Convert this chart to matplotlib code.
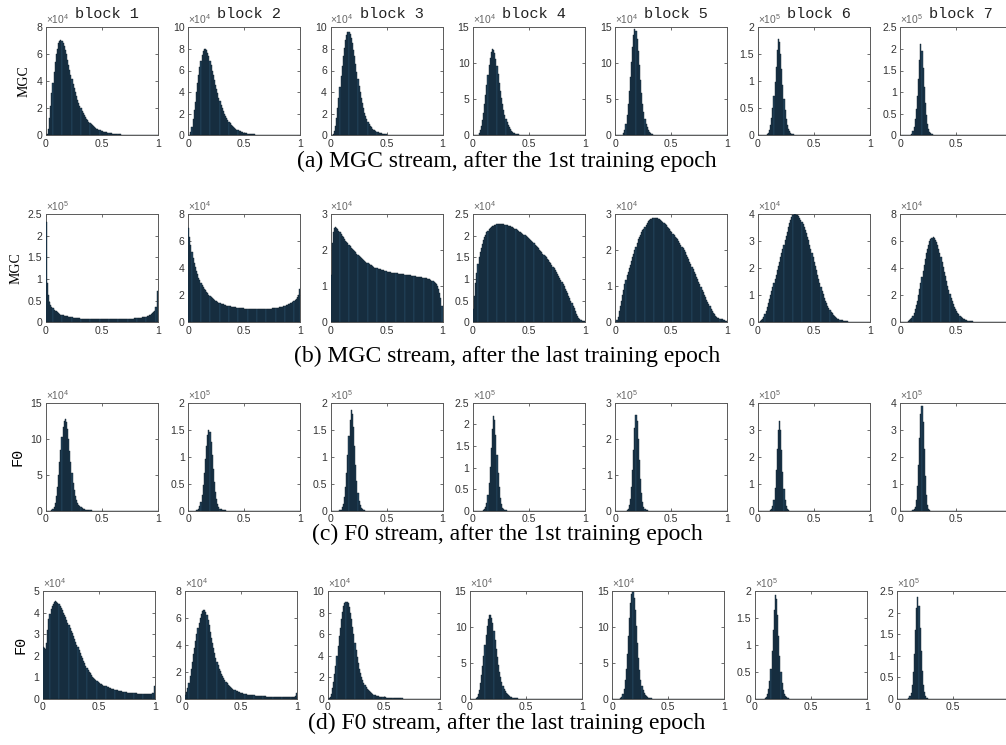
import matplotlib
matplotlib.use("Agg")
import matplotlib.pyplot as plt
import numpy as np

plt.rcParams["font.family"] = ["Liberation Sans", "DejaVu Sans"]

# histogram heights, one value per 0.01-wide bin starting at 0; bins past the
# end of a list are empty. Units are 10^exponent (the "x10^n" above each panel).

# (a) MGC stream, after the 1st training epoch
mgc_first_b1 = [
    0, 0.1, 0.5, 1.3, 2.2, 3.1, 3.9, 4.7, 5.4, 6.0,
    6.4, 6.8, 7.0, 7.05, 7.0, 6.85, 6.6, 6.3, 6.0, 5.6,
    5.2, 4.85, 4.5, 4.15, 3.8, 3.5, 3.2, 2.9, 2.65, 2.4,
    2.2, 2.0, 1.82, 1.65, 1.5, 1.36, 1.23, 1.11, 1.0, 0.9,
    0.82, 0.74, 0.67, 0.61, 0.55, 0.5, 0.45, 0.41, 0.37, 0.34,
    0.31, 0.28, 0.25, 0.23, 0.21, 0.19, 0.17, 0.15, 0.14, 0.12,
    0.11, 0.1, 0.09, 0.08, 0.07, 0.065, 0.06, 0.05, 0.045, 0.04,
    0.035, 0.03, 0.028, 0.025, 0.022, 0.02, 0.018, 0.016, 0.014, 0.012]
mgc_first_b2 = [
    0, 0.05, 0.3, 0.8, 1.5, 2.3, 3.1, 4.0, 4.8, 5.6,
    6.3, 6.9, 7.4, 7.8, 8.0, 8.0, 7.9, 7.6, 7.3, 6.9,
    6.5, 6.0, 5.6, 5.1, 4.7, 4.3, 3.9, 3.5, 3.15, 2.8,
    2.5, 2.25, 2.0, 1.78, 1.58, 1.4, 1.24, 1.1, 0.97, 0.86,
    0.76, 0.67, 0.59, 0.52, 0.46, 0.41, 0.36, 0.32, 0.28, 0.25,
    0.22, 0.2, 0.18, 0.16, 0.14, 0.12, 0.11, 0.1, 0.09, 0.08,
    0.07, 0.06, 0.055, 0.05, 0.045, 0.04, 0.035, 0.03, 0.027, 0.024, 0.02]
mgc_first_b3 = [
    0, 0, 0.1, 0.4, 0.9, 1.6, 2.5, 3.5, 4.5, 5.5,
    6.4, 7.3, 8.1, 8.8, 9.3, 9.6, 9.6, 9.4, 9.0, 8.5,
    7.9, 7.3, 6.6, 5.9, 5.2, 4.6, 4.0, 3.45, 2.95, 2.5,
    2.1, 1.78, 1.5, 1.25, 1.05, 0.88, 0.73, 0.62, 0.53, 0.46,
    0.39, 0.33, 0.28, 0.24, 0.2, 0.17, 0.14, 0.12, 0.1, 0.085,
    0.07, 0.06, 0.05, 0.045, 0.04, 0.035, 0.03, 0.025, 0.02, 0.018]
mgc_first_b4 = [
    0, 0, 0, 0.02, 0.1, 0.3, 0.7, 1.3, 2.1, 3.1,
    4.3, 5.6, 7.0, 8.4, 9.7, 10.8, 11.6, 12.0, 11.9, 11.4,
    10.6, 9.6, 8.5, 7.3, 6.2, 5.2, 4.3, 3.5, 2.8, 2.25,
    1.8, 1.4, 1.1, 0.85, 0.65, 0.5, 0.38, 0.29, 0.22, 0.17,
    0.13, 0.1, 0.08, 0.06, 0.05, 0.04, 0.03, 0.025, 0.02, 0.015, 0.01]
mgc_first_b5 = [
    0, 0, 0, 0, 0, 0.02, 0.1, 0.3, 0.8, 1.6,
    2.8, 4.3, 6.1, 8.1, 10.2, 12.2, 13.9, 14.7, 14.5, 13.4,
    11.7, 9.7, 7.7, 5.9, 4.4, 3.2, 2.3, 1.6, 1.1, 0.75,
    0.5, 0.33, 0.22, 0.15, 0.1, 0.07, 0.05, 0.03, 0.02, 0.01]
mgc_first_b6 = [
    0, 0, 0, 0, 0, 0, 0, 0.005, 0.02, 0.05,
    0.1, 0.19, 0.32, 0.5, 0.72, 0.98, 1.27, 1.58, 1.78, 1.72,
    1.5, 1.22, 0.93, 0.67, 0.46, 0.3, 0.19, 0.12, 0.075, 0.045,
    0.028, 0.017, 0.01, 0.006]
mgc_first_b7 = [
    0, 0, 0, 0, 0, 0, 0, 0, 0.005, 0.015,
    0.04, 0.1, 0.2, 0.37, 0.6, 0.9, 1.3, 1.75, 2.12, 1.95,
    1.55, 1.12, 0.75, 0.46, 0.27, 0.15, 0.08, 0.045, 0.025, 0.013, 0.007]

# (b) MGC stream, after the last training epoch
mgc_last_b1 = [
    2.33, 0.9, 0.63, 0.48, 0.4, 0.36, 0.32, 0.29, 0.27, 0.25,
    0.23, 0.21, 0.195, 0.18, 0.17, 0.16, 0.15, 0.145, 0.14, 0.135,
    0.13, 0.125, 0.12, 0.115, 0.11, 0.105, 0.1, 0.097, 0.094, 0.091,
    0.088, 0.086, 0.084, 0.082, 0.08, 0.078, 0.077, 0.076, 0.075, 0.074,
    0.071, 0.07, 0.07, 0.069, 0.069, 0.068, 0.068, 0.067, 0.067, 0.066,
    0.066, 0.066, 0.065, 0.065, 0.065, 0.065, 0.065, 0.065, 0.066, 0.066,
    0.066, 0.067, 0.067, 0.068, 0.068, 0.069, 0.07, 0.07, 0.071, 0.072,
    0.073, 0.074, 0.075, 0.076, 0.078, 0.08, 0.082, 0.084, 0.086, 0.088,
    0.09, 0.093, 0.096, 0.1, 0.104, 0.108, 0.113, 0.118, 0.124, 0.13,
    0.138, 0.147, 0.158, 0.17, 0.185, 0.205, 0.23, 0.27, 0.36, 0.73]
mgc_last_b2 = [
    7.0, 6.3, 5.7, 5.2, 4.75, 4.4, 4.1, 3.8, 3.55, 3.3,
    3.1, 2.92, 2.76, 2.62, 2.48, 2.36, 2.25, 2.14, 2.04, 1.95,
    1.87, 1.79, 1.72, 1.66, 1.6, 1.55, 1.5, 1.46, 1.42, 1.38,
    1.35, 1.32, 1.29, 1.26, 1.24, 1.22, 1.2, 1.18, 1.16, 1.14,
    1.12, 1.11, 1.1, 1.09, 1.08, 1.07, 1.06, 1.05, 1.04, 1.03,
    1.02, 1.01, 1.0, 1.0, 0.99, 0.99, 0.98, 0.98, 0.98, 0.97,
    0.97, 0.97, 0.97, 0.97, 0.97, 0.97, 0.98, 0.98, 0.98, 0.99,
    0.99, 1.0, 1.0, 1.01, 1.02, 1.03, 1.04, 1.05, 1.06, 1.08,
    1.09, 1.11, 1.13, 1.15, 1.17, 1.19, 1.22, 1.25, 1.28, 1.32,
    1.36, 1.4, 1.45, 1.5, 1.56, 1.63, 1.72, 1.85, 2.05, 2.5]
mgc_last_b3 = [
    1.3, 2.2, 2.5, 2.62, 2.65, 2.62, 2.58, 2.54, 2.5, 2.45,
    2.4, 2.36, 2.32, 2.27, 2.23, 2.19, 2.15, 2.11, 2.07, 2.03,
    2.0, 1.97, 1.94, 1.91, 1.88, 1.85, 1.82, 1.79, 1.76, 1.73,
    1.7, 1.68, 1.66, 1.64, 1.62, 1.6, 1.58, 1.56, 1.54, 1.52,
    1.51, 1.5, 1.49, 1.48, 1.47, 1.46, 1.45, 1.44, 1.43, 1.42,
    1.41, 1.4, 1.39, 1.39, 1.38, 1.38, 1.37, 1.37, 1.36, 1.36,
    1.35, 1.35, 1.34, 1.34, 1.33, 1.33, 1.32, 1.32, 1.31, 1.31,
    1.3, 1.3, 1.29, 1.29, 1.28, 1.28, 1.27, 1.27, 1.26, 1.26,
    1.25, 1.25, 1.24, 1.23, 1.23, 1.22, 1.21, 1.2, 1.19, 1.18,
    1.16, 1.14, 1.12, 1.09, 1.05, 1.0, 0.92, 0.82, 0.68, 0.45]
mgc_last_b4 = [
    0.3, 0.62, 0.9, 1.15, 1.35, 1.5, 1.62, 1.73, 1.82, 1.9,
    1.97, 2.03, 2.08, 2.12, 2.15, 2.18, 2.2, 2.22, 2.24, 2.25,
    2.26, 2.27, 2.27, 2.28, 2.28, 2.28, 2.27, 2.27, 2.26, 2.26,
    2.25, 2.24, 2.23, 2.22, 2.21, 2.2, 2.18, 2.17, 2.15, 2.14,
    2.12, 2.1, 2.09, 2.07, 2.05, 2.03, 2.01, 1.99, 1.97, 1.95,
    1.92, 1.9, 1.88, 1.85, 1.83, 1.8, 1.77, 1.74, 1.71, 1.68,
    1.65, 1.62, 1.59, 1.56, 1.53, 1.5, 1.47, 1.44, 1.4, 1.37,
    1.33, 1.29, 1.25, 1.21, 1.17, 1.12, 1.08, 1.03, 0.98, 0.94,
    0.89, 0.84, 0.78, 0.73, 0.67, 0.62, 0.56, 0.5, 0.44, 0.38,
    0.32, 0.26, 0.2, 0.15, 0.1, 0.07, 0.05, 0.035, 0.025, 0.02]
mgc_last_b5 = [
    0.0, 0.05, 0.15, 0.3, 0.45, 0.6, 0.75, 0.9, 1.05, 1.18,
    1.3, 1.4, 1.5, 1.6, 1.7, 1.8, 1.9, 2.0, 2.1, 2.2,
    2.3, 2.37, 2.43, 2.5, 2.55, 2.6, 2.65, 2.7, 2.75, 2.8,
    2.85, 2.87, 2.88, 2.89, 2.9, 2.9, 2.9, 2.89, 2.87, 2.86,
    2.84, 2.82, 2.79, 2.76, 2.73, 2.7, 2.66, 2.62, 2.58, 2.54,
    2.5, 2.46, 2.42, 2.38, 2.34, 2.3, 2.25, 2.2, 2.15, 2.1,
    2.05, 2.0, 1.94, 1.88, 1.82, 1.75, 1.68, 1.61, 1.54, 1.47,
    1.4, 1.33, 1.26, 1.19, 1.12, 1.05, 0.98, 0.91, 0.84, 0.77,
    0.7, 0.63, 0.56, 0.5, 0.44, 0.38, 0.32, 0.27, 0.22, 0.18,
    0.15, 0.13, 0.11, 0.1, 0.09, 0.08, 0.07, 0.05, 0.04, 0.03]
mgc_last_b6 = [
    0, 0.01, 0.03, 0.07, 0.13, 0.2, 0.3, 0.42, 0.56, 0.72,
    0.85, 1.0, 1.15, 1.3, 1.45, 1.6, 1.76, 1.92, 2.08, 2.24,
    2.4, 2.56, 2.72, 2.88, 3.04, 3.2, 3.36, 3.52, 3.66, 3.8,
    3.9, 3.96, 4.0, 4.0, 3.99, 3.96, 3.92, 3.86, 3.8, 3.72,
    3.63, 3.53, 3.42, 3.3, 3.17, 3.03, 2.88, 2.72, 2.56, 2.4,
    2.24, 2.08, 1.92, 1.76, 1.6, 1.45, 1.3, 1.16, 1.03, 0.91,
    0.8, 0.7, 0.6, 0.52, 0.45, 0.39, 0.33, 0.28, 0.24, 0.2,
    0.17, 0.14, 0.12, 0.1, 0.08, 0.07, 0.06, 0.05, 0.04, 0.035,
    0.03, 0.025, 0.02, 0.017, 0.014, 0.012, 0.01, 0.008, 0.006, 0.005]
mgc_last_b7 = [
    0, 0, 0, 0, 0, 0.02, 0.04, 0.08, 0.14, 0.22,
    0.34, 0.5, 0.7, 0.95, 1.25, 1.6, 2.0, 2.45, 2.9, 3.35,
    3.8, 4.25, 4.7, 5.1, 5.45, 5.75, 6.0, 6.18, 6.28, 6.3,
    6.25, 6.12, 5.95, 5.72, 5.45, 5.15, 4.82, 4.48, 4.12, 3.76,
    3.4, 3.05, 2.72, 2.4, 2.1, 1.83, 1.58, 1.36, 1.16, 0.98,
    0.83, 0.7, 0.59, 0.49, 0.41, 0.34, 0.28, 0.23, 0.19, 0.16,
    0.13, 0.11, 0.09, 0.075, 0.06, 0.05, 0.04, 0.035, 0.03, 0.025,
    0.02, 0.018, 0.015, 0.012, 0.01, 0.008, 0.006, 0.005, 0.004, 0.003]

# (c) F0 stream, after the 1st training epoch
f0_first_b1 = [
    0, 0, 0, 0, 0, 0.05, 0.2, 0.5, 1.1, 2.0,
    3.3, 4.9, 6.7, 8.5, 10.2, 11.6, 12.5, 12.7, 12.3, 11.3,
    9.9, 8.3, 6.7, 5.2, 3.9, 2.9, 2.1, 1.5, 1.1, 0.8,
    0.6, 0.45, 0.35, 0.27, 0.2, 0.15, 0.11, 0.08, 0.06, 0.045,
    0.03, 0.02, 0.015, 0.01, 0.005]
f0_first_b2 = [
    0, 0, 0, 0, 0, 0, 0, 0.005, 0.015, 0.04,
    0.09, 0.17, 0.3, 0.48, 0.7, 0.95, 1.2, 1.4, 1.5, 1.45,
    1.28, 1.03, 0.77, 0.53, 0.34, 0.21, 0.12, 0.07, 0.04, 0.025,
    0.015, 0.01, 0.006, 0.004, 0.002]
f0_first_b3 = [
    0, 0, 0, 0, 0, 0, 0, 0, 0.005, 0.015,
    0.06, 0.13, 0.25, 0.44, 0.7, 1.03, 1.38, 1.68, 1.87, 1.8,
    1.55, 1.2, 0.85, 0.55, 0.33, 0.18, 0.1, 0.05, 0.025, 0.012,
    0.006]
f0_first_b4 = [
    0, 0, 0, 0, 0, 0, 0, 0, 0, 0.01,
    0.03, 0.08, 0.18, 0.36, 0.64, 1.02, 1.45, 1.88, 2.2, 2.1,
    1.75, 1.3, 0.88, 0.54, 0.3, 0.15, 0.07, 0.035, 0.015, 0.007]
f0_first_b5 = [
    0, 0, 0, 0, 0, 0, 0, 0, 0, 0.005,
    0.02, 0.06, 0.15, 0.33, 0.65, 1.12, 1.7, 2.3, 2.65, 2.5,
    2.0, 1.4, 0.88, 0.5, 0.25, 0.11, 0.05, 0.02, 0.008, 0.003]
f0_first_b6 = [
    0, 0, 0, 0, 0, 0, 0, 0, 0, 0,
    0.005, 0.02, 0.06, 0.17, 0.4, 0.85, 1.5, 2.3, 3.0, 3.32,
    3.0, 2.25, 1.45, 0.8, 0.38, 0.16, 0.06, 0.02, 0.007, 0.002]
f0_first_b7 = [
    0, 0, 0, 0, 0, 0, 0, 0, 0, 0,
    0.005, 0.015, 0.05, 0.15, 0.4, 0.9, 1.7, 2.7, 3.6, 3.88,
    3.3, 2.3, 1.3, 0.6, 0.22, 0.07, 0.02, 0.006, 0.002]

# (d) F0 stream, after the last training epoch
f0_last_b1 = [
    2.4, 2.35, 2.3, 2.6, 3.2, 3.7, 3.95, 4.15, 4.3, 4.42,
    4.5, 4.52, 4.5, 4.45, 4.38, 4.3, 4.2, 4.1, 4.0, 3.9,
    3.78, 3.66, 3.54, 3.42, 3.3, 3.17, 3.04, 2.91, 2.78, 2.65,
    2.52, 2.39, 2.26, 2.13, 2.0, 1.88, 1.76, 1.65, 1.55, 1.45,
    1.36, 1.27, 1.19, 1.11, 1.04, 0.98, 0.92, 0.87, 0.82, 0.78,
    0.74, 0.71, 0.68, 0.65, 0.62, 0.6, 0.58, 0.56, 0.54, 0.52,
    0.5, 0.48, 0.46, 0.44, 0.43, 0.41, 0.4, 0.39, 0.37, 0.36,
    0.35, 0.34, 0.33, 0.32, 0.31, 0.3, 0.3, 0.29, 0.28, 0.28,
    0.27, 0.27, 0.26, 0.26, 0.25, 0.25, 0.25, 0.24, 0.24, 0.24,
    0.24, 0.23, 0.23, 0.23, 0.23, 0.22, 0.22, 0.24, 0.3, 0.62]
f0_last_b2 = [
    0.3, 0.5, 0.8, 1.2, 1.7, 2.2, 2.75, 3.3, 3.8, 4.3,
    4.8, 5.25, 5.65, 6.0, 6.3, 6.5, 6.6, 6.6, 6.45, 6.2,
    5.85, 5.45, 5.0, 4.55, 4.15, 3.75, 3.4, 3.05, 2.75, 2.5,
    2.25, 2.05, 1.85, 1.68, 1.52, 1.38, 1.26, 1.15, 1.05, 0.96,
    0.88, 0.81, 0.75, 0.69, 0.64, 0.6, 0.56, 0.52, 0.49, 0.46,
    0.43, 0.41, 0.39, 0.37, 0.35, 0.33, 0.32, 0.3, 0.29, 0.28,
    0.27, 0.26, 0.25, 0.24, 0.23, 0.22, 0.21, 0.21, 0.2, 0.2,
    0.19, 0.19, 0.18, 0.18, 0.17, 0.17, 0.16, 0.16, 0.16, 0.15,
    0.15, 0.15, 0.14, 0.14, 0.14, 0.13, 0.13, 0.13, 0.13, 0.12,
    0.12, 0.12, 0.12, 0.12, 0.12, 0.13, 0.14, 0.17, 0.25, 0.45]
f0_last_b3 = [
    0, 0.05, 0.2, 0.5, 1.0, 1.6, 2.3, 3.1, 4.0, 4.9,
    5.8, 6.6, 7.4, 8.1, 8.6, 8.9, 9.0, 9.0, 8.85, 8.5,
    8.0, 7.4, 6.7, 6.0, 5.2, 4.5, 3.85, 3.3, 2.8, 2.4,
    2.05, 1.75, 1.5, 1.28, 1.1, 0.95, 0.82, 0.71, 0.62, 0.54,
    0.47, 0.41, 0.36, 0.32, 0.28, 0.25, 0.22, 0.2, 0.18, 0.16,
    0.15, 0.14, 0.13, 0.12, 0.11, 0.1, 0.095, 0.09, 0.085, 0.08,
    0.075, 0.07, 0.065, 0.06, 0.055, 0.05, 0.05, 0.045, 0.045, 0.04,
    0.04, 0.035, 0.035, 0.03, 0.03, 0.03, 0.025, 0.025, 0.02, 0.02]
f0_last_b4 = [
    0, 0, 0, 0, 0.02, 0.1, 0.3, 0.7, 1.3, 2.2,
    3.3, 4.6, 6.0, 7.5, 8.9, 10.2, 11.1, 11.6, 11.7, 11.3,
    10.5, 9.4, 8.2, 7.0, 5.8, 4.7, 3.8, 3.0, 2.35, 1.85,
    1.45, 1.12, 0.87, 0.67, 0.52, 0.4, 0.31, 0.24, 0.19, 0.15,
    0.12, 0.1, 0.08, 0.065, 0.05, 0.04, 0.03, 0.025, 0.02, 0.015]
f0_last_b5 = [
    0, 0, 0, 0, 0, 0, 0.02, 0.08, 0.25, 0.65,
    1.4, 2.6, 4.2, 6.3, 8.7, 11.2, 13.3, 14.6, 14.8, 14.0,
    12.3, 10.1, 7.8, 5.7, 4.0, 2.7, 1.8, 1.2, 0.8, 0.55,
    0.38, 0.27, 0.19, 0.13, 0.09, 0.06, 0.04, 0.03, 0.02, 0.01]
f0_last_b6 = [
    0, 0, 0, 0, 0, 0, 0, 0, 0.005, 0.015,
    0.04, 0.09, 0.18, 0.33, 0.56, 0.88, 1.27, 1.65, 1.93, 1.85,
    1.55, 1.17, 0.8, 0.5, 0.29, 0.16, 0.09, 0.05, 0.03, 0.02,
    0.013, 0.009, 0.006, 0.004, 0.003, 0.002]
f0_last_b7 = [
    0, 0, 0, 0, 0, 0, 0, 0, 0.002, 0.008,
    0.025, 0.065, 0.15, 0.32, 0.62, 1.05, 1.6, 2.1, 2.35, 2.15,
    1.65, 1.1, 0.64, 0.33, 0.16, 0.07, 0.03, 0.013, 0.005, 0.002]

mgc_first = [mgc_first_b1, mgc_first_b2, mgc_first_b3, mgc_first_b4,
             mgc_first_b5, mgc_first_b6, mgc_first_b7]
mgc_last = [mgc_last_b1, mgc_last_b2, mgc_last_b3, mgc_last_b4,
            mgc_last_b5, mgc_last_b6, mgc_last_b7]
f0_first = [f0_first_b1, f0_first_b2, f0_first_b3, f0_first_b4,
            f0_first_b5, f0_first_b6, f0_first_b7]
f0_last = [f0_last_b1, f0_last_b2, f0_last_b3, f0_last_b4,
           f0_last_b5, f0_last_b6, f0_last_b7]

mgc_first_exp = [4, 4, 4, 4, 4, 5, 5]
mgc_last_exp = [5, 4, 4, 4, 4, 4, 4]
f0_first_exp = [4, 5, 5, 5, 5, 5, 5]
f0_last_exp = [4, 4, 4, 4, 4, 5, 5]

mgc_first_ymax = [8, 10, 10, 15, 15, 2, 2.5]
mgc_last_ymax = [2.5, 8, 3, 2.5, 3, 4, 8]
f0_first_ymax = [15, 2, 2, 2.5, 3, 4, 4]
f0_last_ymax = [5, 8, 10, 15, 15, 2, 2.5]

block_titles = ["block 1", "block 2", "block 3", "block 4", "block 5", "block 6", "block 7"]
row_ylabels = ["MGC", "MGC", "F0", "F0"]
captions = [
    "(a) MGC stream, after the 1st training epoch",
    "(b) MGC stream, after the last training epoch",
    "(c) F0 stream, after the 1st training epoch",
    "(d) F0 stream, after the last training epoch",
]

rows = [
    (mgc_first, mgc_first_exp, mgc_first_ymax),
    (mgc_last, mgc_last_exp, mgc_last_ymax),
    (f0_first, f0_first_exp, f0_first_ymax),
    (f0_last, f0_last_exp, f0_last_ymax),
]

BIN = 0.01
NBINS = 100
FACE = "#23465f"
EDGE = "#0c1a25"
AXC = "#333333"

W, H = 1006, 745
row_top = [27.3, 214.3, 402.7, 591.0]
row_left = [45.7, 45.7, 45.7, 42.7]
caption_base = [166.5, 362.0, 540.0, 728.5]
col_pitch = 142.4
ax_w, ax_h = 112.0, 108.0

fig = plt.figure(figsize=(W / 100, H / 100), dpi=100)

for r, (panels, exps, ymaxs) in enumerate(rows):
    for c in range(7):
        left = row_left[r] + c * col_pitch
        ax = fig.add_axes([left / W, 1 - (row_top[r] + ax_h) / H, ax_w / W, ax_h / H])
        vals = np.zeros(NBINS)
        vals[:len(panels[c])] = panels[c]
        # bars above the spines so the spike in the first bin stays visible
        ax.bar(np.arange(NBINS) * BIN, vals, width=BIN, align="edge",
               color=FACE, edgecolor=EDGE, linewidth=0.3, zorder=3)
        ymax = ymaxs[c]
        step = {8: 2, 10: 2, 15: 5, 2: 0.5, 2.5: 0.5, 3: 1, 4: 1, 5: 1}[ymax]
        ticks = np.arange(0, ymax + step / 2, step)
        ax.set_xlim(0, 1)
        ax.set_ylim(0, ymax)
        ax.set_xticks([0, 0.5, 1])
        # the last column runs off the right edge, its "1" is not visible
        ax.set_xticklabels(["0", "0.5", "1" if c < 6 else ""])
        ax.set_yticks(ticks)
        ax.set_yticklabels([f"{t:g}" for t in ticks])
        ax.tick_params(direction="in", top=True, right=True, length=2.2, width=0.5,
                       labelsize=7.6, colors=AXC, pad=2.5)
        for sp in ax.spines.values():
            sp.set_color("#5a5a5a")
            sp.set_linewidth(0.7)
        ax.text(0.0, 1.01, r"$\mathregular{\times10^{%d}}$" % exps[c], transform=ax.transAxes,
                ha="left", va="bottom", fontsize=7.4, color="#666666")
        if r == 0:
            ax.text(0.545, 1.085, block_titles[c], transform=ax.transAxes, ha="center",
                    va="baseline", family="Liberation Mono", fontsize=11, color="#222222")
        if c == 0:
            if row_ylabels[r] == "MGC":
                ax.set_ylabel("MGC", family="Liberation Serif", fontsize=10, labelpad=4)
            else:
                ax.set_ylabel("F0", family="Liberation Mono", fontsize=11, labelpad=4)

    fig.text(507 / W, 1 - caption_base[r] / H, captions[r], ha="center", va="baseline",
             family="Liberation Serif", fontsize=17)

fig.savefig("out.png", dpi=100)
